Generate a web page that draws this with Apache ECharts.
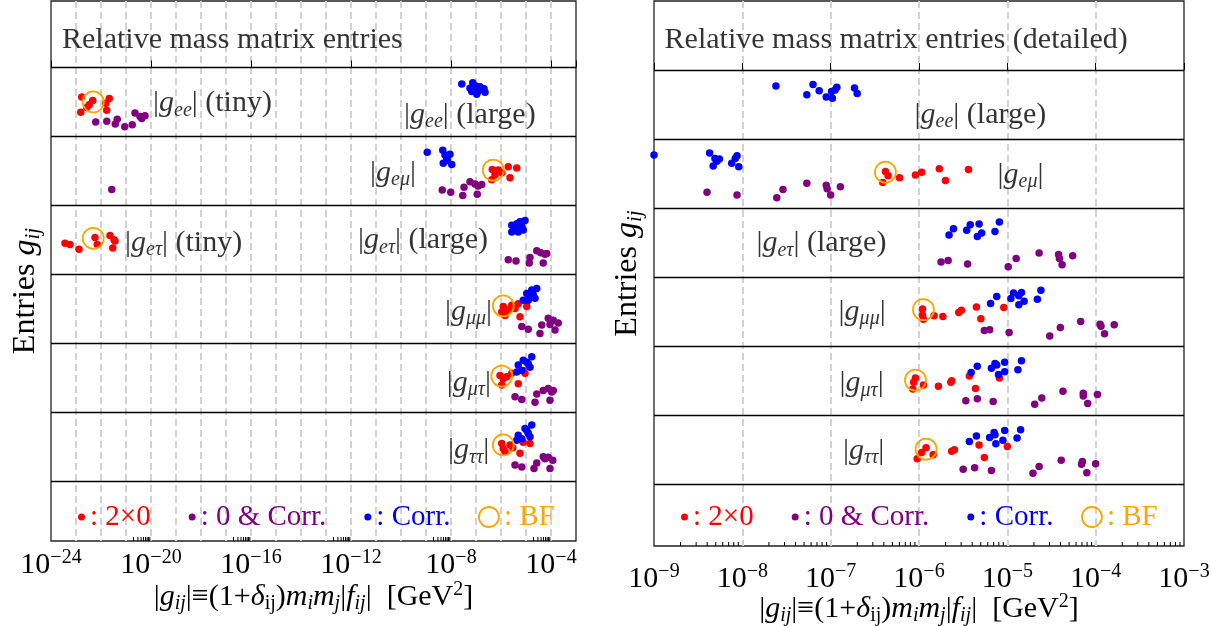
<!DOCTYPE html>
<html><head><meta charset="utf-8">
<script src="https://cdn.jsdelivr.net/npm/echarts@6/dist/echarts.min.js"></script>
<style>html,body{margin:0;padding:0;background:#fff}#c{width:1211px;height:626px}</style>
</head><body><div id="c"></div><script>
// ---------------- DATA ----------------
// Rows (top to bottom) of both panels
const rowKeys = ['ee', 'eμ', 'eτ', 'μμ', 'μτ', 'ττ'];
// Each point: [log10(|g_ij| / GeV^2), vertical jitter inside its row (0 = top, 1 = bottom)]
// ---- Left panel (overview) ----
const leftRed = [
  [[-22.77,0.43],[-22.47,0.54],[-22.57,0.58],[-22.81,0.65],[-22.33,0.48],[-21.67,0.45],[-21.81,0.52],[-21.77,0.62]],
  [[-6.35,0.48],[-6.24,0.56],[-6.37,0.63],[-5.97,0.53],[-5.71,0.44],[-5.37,0.46],[-5.64,0.60],[-6.11,0.49]],
  [[-23.44,0.55],[-23.24,0.57],[-22.88,0.64],[-22.24,0.47],[-22.15,0.57],[-21.64,0.44],[-21.48,0.50],[-21.53,0.62],[-21.44,0.52]],
  [[-5.91,0.47],[-5.71,0.52],[-5.84,0.60],[-5.57,0.45],[-5.31,0.43],[-4.97,0.47],[-5.24,0.62],[-5.97,0.55],[-5.44,0.50]],
  [[-6.04,0.47],[-5.91,0.52],[-5.97,0.61],[-5.77,0.49],[-5.57,0.44],[-5.31,0.59],[-5.04,0.44],[-5.11,0.40]],
  [[-5.97,0.46],[-5.91,0.53],[-5.84,0.58],[-5.64,0.48],[-5.53,0.52],[-5.24,0.60],[-5.11,0.44],[-4.84,0.46]]
];
const leftPurple = [
  [[-22.21,0.79],[-21.77,0.78],[-21.35,0.75],[-21.43,0.82],[-21.05,0.86],[-20.75,0.83],[-20.64,0.66],[-20.44,0.71],[-20.37,0.74],[-20.24,0.70]],
  [[-21.57,0.77],[-8.35,0.78],[-8.01,0.81],[-7.53,0.86],[-7.48,0.74],[-7.24,0.66],[-7.04,0.69],[-6.91,0.72],[-6.77,0.70],[-6.95,0.84]],
  [[-5.71,0.79],[-5.40,0.81],[-4.84,0.76],[-4.87,0.84],[-4.57,0.66],[-4.41,0.69],[-4.24,0.71],[-4.31,0.84],[-4.17,0.70]],
  [[-5.17,0.76],[-4.91,0.80],[-4.44,0.86],[-4.37,0.74],[-4.11,0.64],[-3.91,0.67],[-3.71,0.71],[-3.84,0.81],[-4.04,0.73]],
  [[-5.44,0.78],[-5.17,0.82],[-4.64,0.86],[-4.57,0.74],[-4.31,0.69],[-4.11,0.66],[-3.97,0.71],[-4.04,0.83],[-3.91,0.69]],
  [[-5.44,0.77],[-5.17,0.80],[-4.68,0.82],[-4.57,0.74],[-4.31,0.65],[-4.11,0.66],[-3.93,0.70],[-4.04,0.82],[-4.24,0.68]]
];
const leftBlue = [
  [[-7.57,0.24],[-7.13,0.22],[-7.24,0.30],[-7.01,0.27],[-6.84,0.28],[-6.68,0.31],[-6.64,0.36],[-6.97,0.39],[-7.17,0.35],[-6.91,0.34]],
  [[-8.95,0.23],[-8.33,0.20],[-8.24,0.27],[-8.04,0.26],[-8.17,0.32],[-8.31,0.39],[-7.97,0.41],[-8.15,0.35]],
  [[-5.57,0.29],[-5.37,0.27],[-5.24,0.24],[-5.04,0.22],[-5.17,0.31],[-5.31,0.39],[-5.57,0.39],[-5.11,0.36],[-5.44,0.34]],
  [[-4.97,0.28],[-4.77,0.23],[-4.57,0.21],[-4.84,0.33],[-5.11,0.38],[-4.64,0.35],[-4.91,0.38],[-4.71,0.30]],
  [[-5.31,0.32],[-5.11,0.25],[-4.77,0.20],[-4.91,0.30],[-5.17,0.40],[-5.37,0.42],[-4.84,0.35],[-4.97,0.28]],
  [[-5.31,0.34],[-5.04,0.24],[-4.77,0.19],[-4.91,0.31],[-5.17,0.39],[-5.37,0.41],[-4.84,0.36],[-4.97,0.27]]
];
const leftBF = [[-22.31,0.50],[-6.31,0.49],[-22.31,0.48],[-5.91,0.46],[-5.97,0.48],[-5.91,0.48]];
// ---- Right panel (detailed) ----
const rightRed = [
  [],
  [[-6.41,0.63],[-6.38,0.47],[-6.35,0.53],[-6.22,0.56],[-6.04,0.52],[-5.97,0.48],[-5.77,0.43],[-5.70,0.60],[-5.44,0.44]],
  [],
  [[-5.96,0.46],[-5.96,0.55],[-5.95,0.61],[-5.83,0.56],[-5.73,0.57],[-5.55,0.51],[-5.52,0.48],[-5.35,0.43],[-5.30,0.60],[-5.04,0.44]],
  [[-6.07,0.62],[-6.06,0.52],[-6.04,0.46],[-5.95,0.56],[-5.78,0.58],[-5.64,0.52],[-5.63,0.50],[-5.43,0.43],[-5.36,0.61],[-5.09,0.46]],
  [[-6.02,0.63],[-5.97,0.54],[-5.92,0.47],[-5.84,0.57],[-5.63,0.52],[-5.60,0.50],[-5.32,0.43],[-5.26,0.61],[-5.00,0.45]]
];
const rightPurple = [
  [],
  [[-8.40,0.77],[-8.06,0.81],[-7.61,0.85],[-7.54,0.73],[-7.27,0.64],[-7.05,0.67],[-7.04,0.72],[-7.00,0.81],[-6.89,0.69]],
  [[-5.75,0.78],[-5.67,0.76],[-5.45,0.81],[-4.99,0.85],[-4.90,0.73],[-4.64,0.65],[-4.42,0.67],[-4.41,0.73],[-4.38,0.82],[-4.26,0.69]],
  [[-5.26,0.77],[-5.20,0.76],[-4.98,0.80],[-4.52,0.85],[-4.40,0.73],[-4.17,0.64],[-3.95,0.68],[-3.94,0.71],[-3.90,0.82],[-3.79,0.69]],
  [[-5.47,0.79],[-5.34,0.76],[-5.16,0.80],[-4.69,0.84],[-4.61,0.75],[-4.37,0.65],[-4.14,0.68],[-4.14,0.72],[-4.09,0.83],[-3.98,0.70]],
  [[-5.50,0.78],[-5.37,0.76],[-5.18,0.80],[-4.71,0.84],[-4.64,0.74],[-4.39,0.65],[-4.15,0.67],[-4.16,0.71],[-4.10,0.83],[-4.00,0.70]]
];
const rightBlue = [
  [[-7.62,0.23],[-7.27,0.36],[-7.20,0.21],[-7.13,0.30],[-7.05,0.39],[-6.98,0.41],[-6.99,0.31],[-6.93,0.25],[-6.95,0.29],[-6.73,0.26],[-6.70,0.34]],
  [[-9.00,0.23],[-8.37,0.20],[-8.31,0.28],[-8.26,0.29],[-8.29,0.32],[-8.33,0.39],[-8.12,0.35],[-8.08,0.28],[-8.06,0.24],[-8.04,0.40]],
  [[-5.66,0.39],[-5.61,0.30],[-5.46,0.32],[-5.42,0.24],[-5.34,0.41],[-5.32,0.23],[-5.29,0.36],[-5.14,0.34],[-5.09,0.20]],
  [[-5.19,0.38],[-5.12,0.28],[-4.96,0.31],[-4.93,0.23],[-4.87,0.27],[-4.84,0.22],[-4.87,0.40],[-4.81,0.35],[-4.66,0.32],[-4.62,0.19]],
  [[-5.41,0.38],[-5.34,0.29],[-5.18,0.32],[-5.14,0.25],[-5.12,0.27],[-5.03,0.23],[-5.10,0.41],[-5.03,0.37],[-4.88,0.34],[-4.84,0.21]],
  [[-5.43,0.38],[-5.35,0.30],[-5.20,0.32],[-5.15,0.25],[-5.14,0.28],[-5.03,0.22],[-5.13,0.41],[-5.05,0.36],[-4.89,0.33],[-4.85,0.21]]
];
const rightBF = [null,[-6.38,0.48],null,[-5.95,0.47],[-6.04,0.49],[-5.92,0.49]];
// Series names (legend)
const seriesNames = ['2×0', '0 & Corr.', 'Corr.', 'BF'];
// Axis ranges (exponents of 10)
const leftExp = [-24, -3], rightExp = [-9, -3];

// ---------------- LAYOUT / STYLE ----------------
const FONT = '"Liberation Serif", "Times New Roman", serif';
const COL = { red: '#ff0000', purple: '#800080', blue: '#0000ff', orange: '#ffa500' };
const FS = 30;
const RICH = {
  t: { fontFamily: FONT, fontSize: FS, color: '#000', lineHeight: 34 },
  g: { fontFamily: FONT, fontSize: FS, fontStyle: 'italic', color: '#000', lineHeight: 34 },
  s: { fontFamily: FONT, fontSize: 20, fontStyle: 'italic', color: '#000', lineHeight: 14, verticalAlign: 'bottom' },
  r: { fontFamily: FONT, fontSize: 20, color: '#000', lineHeight: 14, verticalAlign: 'bottom' },
  p: { fontFamily: FONT, fontSize: 20, color: '#000', lineHeight: 14, verticalAlign: 'top' },
  b: { fontFamily: FONT, fontSize: FS, color: '#000', lineHeight: 34 },
  e: { fontFamily: FONT, fontSize: 20, color: '#000', lineHeight: 14, verticalAlign: 'top' }
};
const RICH_Y = {
  t: Object.assign({}, RICH.t, { fontSize: 32, lineHeight: 36 }),
  g: Object.assign({}, RICH.g, { fontSize: 32, lineHeight: 36 }),
  s: Object.assign({}, RICH.s, { fontSize: 21 })
};
const gLab = (sub, tail) => `{t||}{g|g}{s|${sub}}{t||${tail}}`;
// label anchors [log10 x, row + offset]
const leftLabels = [
  { at: [-23.56, -0.40], text: '{t|Relative mass matrix entries}' },
  { at: [-19.92, 0.52], text: gLab('ee', ' (tiny)') },
  { at: [-9.88, 0.69], text: gLab('ee', ' (large)') },
  { at: [-11.24, 1.53], text: gLab('eμ', '') },
  { at: [-21.04, 2.55], text: gLab('eτ', ' (tiny)') },
  { at: [-11.72, 2.51], text: gLab('eτ', ' (large)') },
  { at: [-8.24, 3.55], text: gLab('μμ', '') },
  { at: [-8.17, 4.58], text: gLab('μτ', '') },
  { at: [-8.12, 5.56], text: gLab('ττ', '') }
];
const rightLabels = [
  { at: [-8.88, -0.43], text: '{t|Relative mass matrix entries (detailed)}' },
  { at: [-6.05, 0.65], text: gLab('ee', ' (large)') },
  { at: [-5.11, 1.52], text: gLab('eμ', '') },
  { at: [-7.84, 2.51], text: gLab('eτ', ' (large)') },
  { at: [-6.91, 3.50], text: gLab('μμ', '') },
  { at: [-6.90, 4.54], text: gLab('μτ', '') },
  { at: [-6.86, 5.52], text: gLab('ττ', '') }
];
const yRange = [[-0.965, 6.874], [-0.999, 6.892]];

function pts(rows) {
  const out = [];
  rows.forEach((row, r) => { (row || []).forEach(p => out.push([p[0], r + p[1]])); });
  return out;
}
function bfPts(rows) {
  const out = [];
  rows.forEach((p, r) => { if (p) out.push([p[0], r + p[1]]); });
  return out;
}
function minorTicks(majors, yMax) {
  const out = [];
  majors.forEach(m => { for (let k = 2; k <= 9; k++) out.push([m + Math.log10(k), yMax]); });
  return out;
}
const expFmt = v => `{b|10}{e|−${-v}}`;
const xName = '{t||}{g|g}{s|ij}{t||≡(1+}{g|δ}{r|ij}{t|)}{g|m}{s|i}{g|m}{s|j}{t||}{g|f}{s|ij}{t||  [GeV}{p|2}{t|]}';
const yName = '{t|Entries }{g|g}{s|ij}';

function panelSeries(xi, yi, red, purple, blue, bf, labels, minors) {
  const dot = (name, color, data) => ({
    type: 'scatter', name, xAxisIndex: xi, yAxisIndex: yi, data,
    symbol: 'circle', symbolSize: 7.5, itemStyle: { color, opacity: 1 }, silent: true, z: 3, clip: true
  });
  return [
    dot(seriesNames[0], COL.red, pts(red)),
    dot(seriesNames[1], COL.purple, pts(purple)),
    dot(seriesNames[2], COL.blue, pts(blue)),
    {
      type: 'scatter', name: seriesNames[3], xAxisIndex: xi, yAxisIndex: yi, data: bfPts(bf),
      symbol: 'circle', symbolSize: 21, silent: true, z: 4,
      itemStyle: { color: 'rgba(0,0,0,0)', borderColor: COL.orange, borderWidth: 1.8, opacity: 1 }
    },
    {
      type: 'scatter', name: 'labels' + xi, xAxisIndex: xi, yAxisIndex: yi, silent: true, z: 5,
      symbolSize: 0, itemStyle: { color: 'rgba(0,0,0,0)' },
      label: { show: true, position: 'right', distance: 0, rich: RICH },
      data: labels.map(l => ({ value: l.at, label: { formatter: l.text } })),
      markLine: {
        silent: true, symbol: 'none', label: { show: false },
        lineStyle: { color: '#000', width: 1.3, type: 'solid' },
        data: [0, 1, 2, 3, 4, 5, 6].map(v => ({ yAxis: v }))
      }
    },
    {
      type: 'custom', name: 'minor' + xi, xAxisIndex: xi, yAxisIndex: yi, silent: true, z: 6,
      data: minors,
      renderItem: (params, api) => {
        const p = api.coord([api.value(0), api.value(1)]);
        return { type: 'line', shape: { x1: p[0], y1: p[1], x2: p[0], y2: p[1] - 4 }, style: { stroke: '#000', lineWidth: 1 } };
      }
    }
  ];
}

const splitAxis = (grid, ext) => ({
  type: 'value', gridIndex: grid, min: ext[0], max: ext[1], interval: 1,
  axisLabel: { show: false }, axisTick: { show: false }, axisLine: { show: false },
  splitLine: { show: true, showMinLine: false, showMaxLine: false,
    lineStyle: { color: '#d2d2d2', width: 2, type: [7, 4] } }
});
const labelAxis = (grid, ext, interval, fmt, margin, nameGap) => ({
  type: 'value', gridIndex: grid, min: ext[0], max: ext[1], interval,
  axisLine: { show: false }, splitLine: { show: false },
  axisTick: { show: true, inside: true, length: 7, lineStyle: { color: '#000', width: 1 } },
  axisLabel: { formatter: fmt, margin, rich: RICH, showMaxLabel: true, showMinLabel: true, hideOverlap: false },
  name: xName, nameLocation: 'middle', nameGap, nameMoveOverlap: false,
  nameTextStyle: { rich: RICH }
});
const yAx = (grid, r, gap, pad) => ({
  type: 'value', gridIndex: grid, inverse: true, min: r[0], max: r[1],
  axisLabel: { show: false }, axisTick: { show: false }, axisLine: { show: false }, splitLine: { show: false },
  name: yName, nameLocation: 'middle', nameRotate: 90, nameGap: gap, nameMoveOverlap: false,
  nameTextStyle: { rich: RICH_Y, padding: pad }
});

const legendBase = (left, dots) => ({
  left, top: 500, padding: 0, selectedMode: false, orient: 'horizontal',
  itemGap: 38, itemWidth: dots ? 7 : 20, itemHeight: dots ? 7 : 20, icon: 'circle',
  formatter: n => ': ' + n,
  textStyle: { fontFamily: FONT, fontSize: 29, lineHeight: 34 },
  data: dots
    ? [{ name: seriesNames[0], textStyle: { color: COL.red } },
       { name: seriesNames[1], textStyle: { color: COL.purple } },
       { name: seriesNames[2], textStyle: { color: COL.blue } }]
    : [{ name: seriesNames[3], textStyle: { color: COL.orange },
         itemStyle: { color: 'rgba(0,0,0,0)', borderColor: COL.orange, borderWidth: 1.8 } }]
});

const chart = echarts.init(document.getElementById('c'), null, { renderer: 'canvas' });
chart.setOption({
  animation: false,
  backgroundColor: '#fff',
  textStyle: { fontFamily: FONT },
  grid: [
    { left: 51, top: 1, width: 525, height: 540, show: true, borderColor: '#222', borderWidth: 1.3,
      backgroundColor: 'transparent', containLabel: false, outerBoundsMode: 'none' },
    { left: 654, top: 1, width: 530, height: 545, show: true, borderColor: '#222', borderWidth: 1.3,
      backgroundColor: 'transparent', containLabel: false, outerBoundsMode: 'none' }
  ],
  xAxis: [
    labelAxis(0, leftExp, 4, v => (v % 4 === 0 ? expFmt(v) : ''), 7, 39),
    splitAxis(0, leftExp),
    labelAxis(1, rightExp, 1, expFmt, 16, 46),
    splitAxis(1, rightExp)
  ],
  yAxis: [yAx(0, yRange[0], 7, [0, 40, 0, 0]), yAx(1, yRange[1], 8, [0, 0, 0, 0])],
  legend: [legendBase(78, true), legendBase(478, false), legendBase(681, true), legendBase(1081, false)],
  series: [
    ...panelSeries(0, 0, leftRed, leftPurple, leftBlue, leftBF, leftLabels,
      minorTicks([-21, -17, -13, -9, -5], yRange[0][1])),
    ...panelSeries(2, 1, rightRed, rightPurple, rightBlue, rightBF, rightLabels,
      minorTicks([-9, -8, -7, -6, -5, -4], yRange[1][1]))
  ]
});
</script></body></html>
